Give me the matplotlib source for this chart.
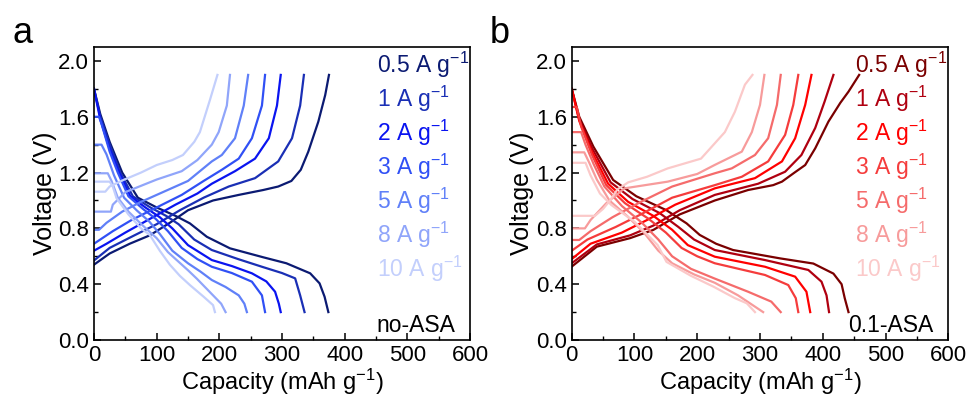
import matplotlib
matplotlib.use('Agg')
import matplotlib.pyplot as plt
from matplotlib.ticker import MultipleLocator

plt.rcParams['font.family'] = ['Liberation Sans', 'DejaVu Sans']
plt.rcParams['mathtext.fontset'] = 'custom'
plt.rcParams['mathtext.rm'] = 'Liberation Sans'
plt.rcParams['mathtext.it'] = 'Liberation Sans:italic'

# current densities (A g-1)
rates = ['0.5', '1', '2', '3', '5', '8', '10']
blue_colors = ['#0b1a72', '#1a2fb5', '#0a14f0', '#3050f5', '#6080f8', '#90a5fa', '#c3cffc']
red_colors = ['#7a0000', '#b00010', '#ff0000', '#f53c3c', '#f56b6b', '#f79b9b', '#fbc9c9']

# ---- no-ASA (panel a) ----
noasa_dis_cap = [
    [0, 10, 25, 45, 70, 100, 130, 153, 180, 217, 270, 307, 345, 360, 368, 374],
    [0, 10, 25, 42, 62, 90, 115, 135, 160, 188, 230, 268, 300, 321, 329, 336],
    [0, 10, 25, 40, 58, 82, 105, 125, 150, 188, 220, 252, 275, 289, 295, 298],
    [0, 8, 12, 25, 38, 55, 78, 98, 118, 140, 165, 188, 220, 252, 268, 273],
    [0, 12, 20, 32, 48, 68, 88, 105, 125, 150, 170, 188, 210, 231, 240, 244],
    [0, 22, 28, 38, 55, 78, 100, 118, 132, 150, 164, 190, 203, 210],
    [0, 25, 30, 36, 55, 75, 89, 105, 121, 137, 153, 175, 190, 193],
]
noasa_dis_volt = [
    [1.8, 1.62, 1.42, 1.2, 1.02, 0.95, 0.89, 0.836, 0.74, 0.657, 0.593, 0.55, 0.478, 0.406, 0.31, 0.2],
    [1.8, 1.6, 1.4, 1.2, 1.03, 0.95, 0.89, 0.83, 0.72, 0.645, 0.58, 0.525, 0.48, 0.442, 0.32, 0.2],
    [1.8, 1.58, 1.37, 1.2, 1.03, 0.95, 0.88, 0.8, 0.68, 0.573, 0.53, 0.478, 0.42, 0.346, 0.26, 0.2],
    [1.6, 1.6, 1.55, 1.35, 1.2, 1.03, 0.94, 0.87, 0.78, 0.66, 0.58, 0.525, 0.48, 0.418, 0.32, 0.2],
    [1.4, 1.4, 1.33, 1.18, 1.02, 0.93, 0.85, 0.76, 0.64, 0.55, 0.49, 0.43, 0.38, 0.32, 0.26, 0.2],
    [1.195, 1.195, 1.14, 1.02, 0.92, 0.82, 0.73, 0.63, 0.573, 0.5, 0.44, 0.32, 0.26, 0.2],
    [1.135, 1.135, 1.1, 1.016, 0.9, 0.8, 0.753, 0.64, 0.54, 0.46, 0.394, 0.31, 0.25, 0.2],
]
noasa_chg_cap = [
    [0, 25, 57, 89, 121, 150, 190, 231, 270, 294, 315, 330, 342, 358, 369, 375],
    [0, 25, 60, 100, 137, 175, 215, 257, 294, 316, 329, 335],
    [0, 20, 50, 90, 130, 165, 188, 225, 257, 279, 292, 298],
    [0, 10, 30, 60, 100, 140, 175, 204, 231, 252, 268, 273],
    [0, 8, 20, 45, 75, 110, 150, 188, 204, 225, 239, 246],
    [0, 27, 30, 50, 100, 140, 165, 188, 199, 212, 217],
    [0, 18, 25, 47, 75, 100, 125, 142, 160, 169, 185, 197],
]
noasa_chg_volt = [
    [0.54, 0.62, 0.69, 0.75, 0.84, 0.93, 1.0, 1.04, 1.075, 1.1, 1.14, 1.22, 1.35, 1.565, 1.756, 1.9],
    [0.57, 0.66, 0.74, 0.83, 0.93, 1.02, 1.1, 1.16, 1.28, 1.446, 1.68, 1.9],
    [0.64, 0.69, 0.77, 0.87, 0.97, 1.05, 1.12, 1.21, 1.30, 1.446, 1.68, 1.9],
    [0.69, 0.72, 0.78, 0.86, 0.95, 1.04, 1.14, 1.22, 1.30, 1.446, 1.68, 1.9],
    [0.79, 0.79, 0.84, 0.92, 0.99, 1.06, 1.14, 1.28, 1.326, 1.446, 1.68, 1.9],
    [0.92, 0.92, 0.97, 1.06, 1.15, 1.21, 1.29, 1.40, 1.49, 1.68, 1.9],
    [1.063, 1.063, 1.10, 1.147, 1.2, 1.254, 1.29, 1.326, 1.42, 1.49, 1.72, 1.9],
]

# ---- 0.1-ASA (panel b) ----
asa_dis_cap = [
    [0, 12, 34.5, 66, 103, 151, 183, 204, 230, 257, 332, 385, 417, 430, 435, 441],
    [0, 12, 33, 62, 97, 140, 170, 195, 228, 308, 377, 398, 406, 410],
    [0, 12, 32, 58, 90, 130, 160, 185, 228, 308, 356, 374, 380],
    [0, 8, 15, 32, 55, 85, 122, 150, 175, 200, 228, 308, 345, 357, 361],
    [0, 15, 22, 35, 52, 80, 112, 138, 160, 190, 228, 281, 318, 333],
    [0, 20, 28, 40, 60, 88, 115, 138, 160, 195, 228, 265, 285, 305],
    [0, 22, 30, 45, 63, 100, 137, 151, 190, 226, 260, 279, 292],
]
asa_dis_volt = [
    [1.8, 1.6, 1.386, 1.147, 1.03, 0.93, 0.836, 0.753, 0.69, 0.645, 0.585, 0.548, 0.476, 0.40, 0.3, 0.2],
    [1.8, 1.58, 1.37, 1.13, 1.01, 0.91, 0.81, 0.72, 0.645, 0.573, 0.502, 0.418, 0.32, 0.2],
    [1.8, 1.57, 1.35, 1.12, 0.99, 0.89, 0.79, 0.68, 0.597, 0.525, 0.454, 0.346, 0.2],
    [1.67, 1.67, 1.53, 1.33, 1.11, 0.98, 0.87, 0.77, 0.66, 0.6, 0.55, 0.466, 0.394, 0.3, 0.2],
    [1.49, 1.49, 1.4, 1.26, 1.1, 0.96, 0.84, 0.72, 0.6, 0.51, 0.44, 0.346, 0.275, 0.2],
    [1.345, 1.345, 1.27, 1.15, 1.0, 0.89, 0.77, 0.64, 0.55, 0.47, 0.41, 0.32, 0.26, 0.2],
    [1.27, 1.27, 1.18, 1.05, 0.968, 0.848, 0.68, 0.56, 0.46, 0.382, 0.3, 0.263, 0.2],
]
asa_chg_cap = [
    [0, 40, 93, 130, 172, 228, 281, 321, 335, 355, 372, 388, 409, 428, 441, 458],
    [0, 40, 93, 130, 172, 228, 297, 340, 366, 388, 403, 417],
    [0, 30, 80, 120, 165, 228, 292, 335, 356, 372, 382],
    [0, 25, 70, 110, 160, 228, 271, 313, 340, 353, 361],
    [0, 12, 30, 65, 110, 160, 228, 255, 292, 313, 327, 333],
    [0, 21, 30, 55, 84, 153, 200, 228, 271, 287, 300, 307],
    [0, 37, 50, 61, 73, 90, 120, 153, 206, 228, 244, 260, 276, 288],
]
asa_chg_volt = [
    [0.526, 0.669, 0.73, 0.789, 0.9, 1.0, 1.075, 1.11, 1.135, 1.2, 1.254, 1.374, 1.565, 1.7, 1.78, 1.9],
    [0.55, 0.685, 0.75, 0.82, 0.93, 1.04, 1.12, 1.206, 1.326, 1.52, 1.71, 1.9],
    [0.58, 0.69, 0.77, 0.86, 0.97, 1.087, 1.16, 1.28, 1.446, 1.685, 1.9],
    [0.64, 0.72, 0.81, 0.9, 1.02, 1.11, 1.17, 1.28, 1.47, 1.685, 1.9],
    [0.717, 0.717, 0.78, 0.88, 0.99, 1.1, 1.195, 1.23, 1.326, 1.446, 1.685, 1.9],
    [0.80, 0.80, 0.86, 0.98, 1.087, 1.135, 1.19, 1.255, 1.35, 1.49, 1.685, 1.9],
    [0.89, 0.89, 0.94, 1.0, 1.08, 1.13, 1.17, 1.23, 1.30, 1.41, 1.49, 1.636, 1.83, 1.9],
]


def draw_panel(ax, dis_c, dis_v, chg_c, chg_v, colors, tag):
    for i in range(len(rates)):
        ax.plot(dis_c[i], dis_v[i], color=colors[i], lw=1.6)
        ax.plot(chg_c[i], chg_v[i], color=colors[i], lw=1.6)
        ax.text(451, 1.97 - 0.243 * i, rates[i] + ' A g$^{-1}$', color=colors[i],
                fontsize=16.5, va='center', ha='left')
    ax.text(0.96, 0.027, tag, transform=ax.transAxes, ha='right', va='baseline', fontsize=16.5)

    ax.set_xlim(0, 600)
    ax.set_ylim(0, 2.1)
    ax.xaxis.set_major_locator(MultipleLocator(100))
    ax.xaxis.set_minor_locator(MultipleLocator(50))
    ax.yaxis.set_major_locator(MultipleLocator(0.4))
    ax.yaxis.set_minor_locator(MultipleLocator(0.2))
    ax.yaxis.set_major_formatter(matplotlib.ticker.FormatStrFormatter('%.1f'))
    ax.tick_params(which='major', direction='in', length=5, width=1.1, labelsize=16, pad=3.5)
    ax.tick_params(which='minor', direction='in', length=3, width=1.0)
    for s in ax.spines.values():
        s.set_linewidth(1.2)
    ax.set_xlabel('Capacity (mAh g$^{-1}$)', fontsize=17, labelpad=1)
    ax.set_ylabel('Voltage (V)', fontsize=18, labelpad=1)


fig = plt.figure(figsize=(9.71, 3.96), dpi=100)
ax1 = fig.add_axes([0.0968, 0.1414, 0.3872, 0.7399])
ax2 = fig.add_axes([0.5888, 0.1414, 0.3878, 0.7399])

draw_panel(ax1, noasa_dis_cap, noasa_dis_volt, noasa_chg_cap, noasa_chg_volt, blue_colors, 'no-ASA')
draw_panel(ax2, asa_dis_cap, asa_dis_volt, asa_chg_cap, asa_chg_volt, red_colors, '0.1-ASA')

fig.text(12 / 971, 1 - 43 / 396, 'a', fontsize=26, va='baseline')
fig.text(490 / 971, 1 - 43 / 396, 'b', fontsize=26, va='baseline')

fig.savefig('out.png', dpi=100)
